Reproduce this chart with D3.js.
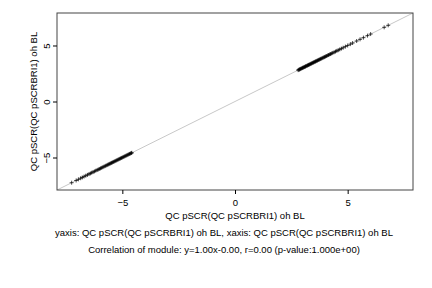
<!DOCTYPE html>
<html>
<head>
<meta charset="utf-8">
<script src="https://cdn.jsdelivr.net/npm/d3@7"></script>
<style>
  body { margin: 0; background: #fff; }
  svg { display: block; }
  text { font-family: "Liberation Sans", Arial, sans-serif; fill: #000; }
</style>
</head>
<body>
<div id="chart"></div>
<script>
// module member values (x and y are the same trait, so y == x)
var posValues = [2.80, 2.83, 2.86, 2.88, 2.91, 2.94, 2.97, 3.00, 3.02, 3.05, 3.08, 3.11, 3.13, 3.16,
  3.19, 3.22, 3.25, 3.27, 3.30, 3.33, 3.36, 3.39, 3.42, 3.45, 3.48, 3.51, 3.54, 3.57, 3.60, 3.63,
  3.66, 3.70, 3.73, 3.76, 3.80, 3.83, 3.87, 3.91, 3.95, 3.98, 4.02, 4.06, 4.11, 4.15, 4.20, 4.24,
  4.29, 4.34, 4.40, 4.46, 4.52, 4.58, 4.65, 4.72, 4.80, 4.90, 5.00, 5.12, 5.22, 5.40, 5.55, 5.70,
  5.88, 6.02, 6.62, 6.80];
var negValues = [-7.25, -7.05, -6.95, -6.85, -6.78, -6.70, -6.62, -6.55, -6.48, -6.42, -6.36, -6.30,
  -6.24, -6.18, -6.12, -6.07, -6.02, -5.97, -5.92, -5.87, -5.82, -5.77, -5.73, -5.68, -5.64, -5.60,
  -5.56, -5.52, -5.48, -5.44, -5.40, -5.36, -5.32, -5.28, -5.24, -5.20, -5.16, -5.12, -5.08, -5.04,
  -5.00, -4.96, -4.92, -4.88, -4.84, -4.80, -4.76, -4.72, -4.68, -4.64, -4.60, -4.58];
var xTicks = [-5, 0, 5];
var yTicks = [-5, 0, 5];
var axisRange = [-7.9, 7.9];
var xTitle = "QC pSCR(QC pSCRBRI1) oh BL";
var yTitle = "QC pSCR(QC pSCRBRI1) oh BL";
var subTitle1 = "yaxis: QC pSCR(QC pSCRBRI1) oh BL, xaxis: QC pSCR(QC pSCRBRI1) oh BL";
var subTitle2 = "Correlation of module: y=1.00x-0.00, r=0.00 (p-value:1.000e+00)";

var W = 432, H = 288;
var margin = {top: 13, right: 19, bottom: 98, left: 57},
  width = W - margin.left - margin.right,
  height = H - margin.top - margin.bottom;

var svg = d3.select("#chart")
  .append("svg")
  .attr("width", W)
  .attr("height", H);

var g = svg.append("g")
  .attr("transform", "translate(" + margin.left + "," + margin.top + ")");

var x = d3.scaleLinear().domain(axisRange).range([0, width]);
var y = d3.scaleLinear().domain(axisRange).range([height, 0]);

g.append("clipPath").attr("id", "clip")
  .append("rect").attr("width", width).attr("height", height);

// reference line y = x
g.append("line")
  .attr("clip-path", "url(#clip)")
  .attr("x1", x(axisRange[0])).attr("y1", y(axisRange[0]))
  .attr("x2", x(axisRange[1])).attr("y2", y(axisRange[1]))
  .style("stroke", "#c8c8c8")
  .style("stroke-width", 1);

// points as "+"
var pts = posValues.concat(negValues);
var s = 2;
g.selectAll(".pt")
  .data(pts)
  .enter()
  .append("path")
  .attr("class", "pt")
  .attr("transform", function(d) { return "translate(" + x(d) + "," + y(d) + ")"; })
  .attr("d", "M" + (-s) + ",0H" + s + "M0," + (-s) + "V" + s)
  .style("stroke", "#000")
  .style("stroke-width", 0.7)
  .style("fill", "none");

// frame
g.append("rect")
  .attr("x", 0).attr("y", 0)
  .attr("width", width).attr("height", height)
  .style("fill", "none")
  .style("stroke", "#444")
  .style("stroke-width", 1);

var fs = 9.5;

// x axis
var xAxis = g.append("g")
  .attr("transform", "translate(0," + height + ")")
  .call(d3.axisBottom(x).tickValues(xTicks).tickSize(4).tickPadding(5).tickFormat(d3.format("d")));
xAxis.select(".domain").remove();
xAxis.selectAll("text").style("font-size", fs + "px").style("font-family", "Liberation Sans, Arial, sans-serif");

// y axis
var yAxis = g.append("g")
  .call(d3.axisLeft(y).tickValues(yTicks).tickSize(4).tickFormat(d3.format("d")));
yAxis.select(".domain").remove();
yAxis.selectAll("text")
  .attr("x", null).attr("dy", null)
  .attr("text-anchor", "middle")
  .attr("transform", "translate(-7,0) rotate(-90)")
  .style("font-size", fs + "px")
  .style("font-family", "Liberation Sans, Arial, sans-serif");

// titles
svg.append("text")
  .attr("x", margin.left + width / 2).attr("y", 219)
  .attr("text-anchor", "middle")
  .style("font-size", fs + "px")
  .text(xTitle);

svg.append("text")
  .attr("transform", "translate(37," + (margin.top + height / 2) + ") rotate(-90)")
  .attr("text-anchor", "middle")
  .style("font-size", fs + "px")
  .text(yTitle);

svg.append("text")
  .attr("x", 224).attr("y", 236)
  .attr("text-anchor", "middle")
  .style("font-size", fs + "px")
  .text(subTitle1);

svg.append("text")
  .attr("x", 224).attr("y", 253)
  .attr("text-anchor", "middle")
  .style("font-size", fs + "px")
  .text(subTitle2);
</script>
</body>
</html>
